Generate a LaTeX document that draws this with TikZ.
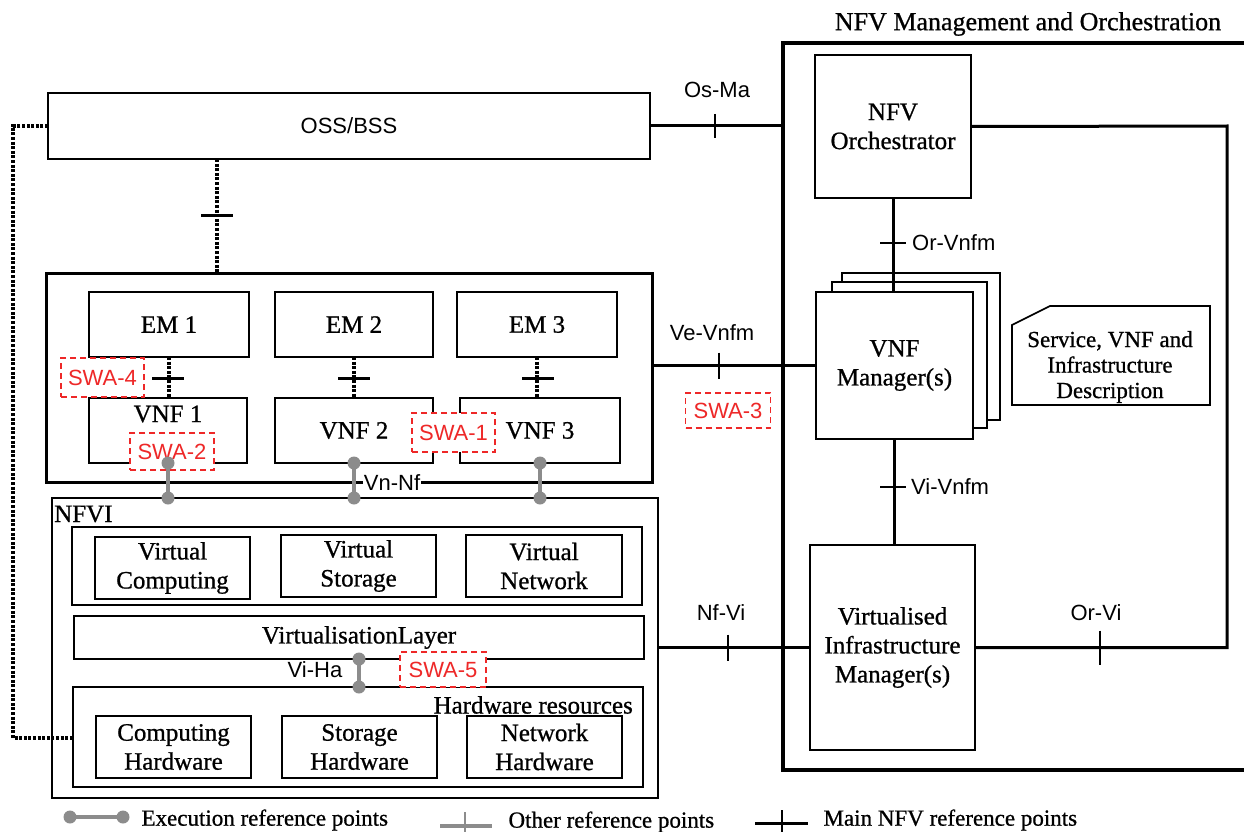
\documentclass[tikz,border=0pt]{standalone}
\usepackage{fontspec}
\setmainfont{Liberation Serif}[BoldFont={Liberation Serif}, BoldFeatures={FakeBold=0.8}]
\setsansfont{Liberation Sans}

\definecolor{swared}{RGB}{238,40,40}
\definecolor{exegray}{RGB}{140,140,140}

\newcommand{\boxfont}{\bfseries\fontsize{25}{29}\selectfont}
\newcommand{\legfont}{\bfseries\fontsize{23}{26}\selectfont}
\newcommand{\labfont}{\sffamily\fontsize{22}{24}\selectfont}

\tikzset{
	box/.style={draw, line width=1.6pt, fill=white, inner sep=0pt, outer sep=0pt, align=center, font=\boxfont},
	holder/.style={draw, line width=3pt, inner sep=0pt, outer sep=0pt},
	swa/.style={draw=swared, dash pattern=on 6pt off 4pt, line width=1.6pt, text=swared, fill=white, inner sep=0pt, font=\labfont},
	reflabel/.style={font=\labfont, inner sep=1pt},
	mainref/.style={line width=3pt},
	thintick/.style={line width=1.6pt},
	bartick/.style={line width=3pt},
	dotlink/.style={line width=3.6pt, dash pattern=on 3pt off 1.6pt},
	exe/.style={line width=4pt, draw=exegray},
}

% gray execution reference point, dot at each end
\newcommand{\execlink}[2]{%
	\draw[exe] #1 -- #2;
	\fill[exegray] #1 circle (6.5pt);
	\fill[exegray] #2 circle (6.5pt);}

\begin{document}
\begin{tikzpicture}[x=1pt, y=-1pt]
	\useasboundingbox (0,0) rectangle (1244,832);

	% OSS/BSS
	\node[box, font=\sffamily\fontsize{22}{24}\selectfont, minimum width=602, minimum height=66] (oss) at (349,126) {OSS/BSS};

	% VNF layer
	\node[holder, minimum width=606, minimum height=209] (vnfbox) at (349,377.5) {};
	\node[box, minimum width=160, minimum height=65] (em1) at (169,324.5) {EM 1};
	\node[box, minimum width=158, minimum height=65] (em2) at (354,324.5) {EM 2};
	\node[box, minimum width=160, minimum height=65] (em3) at (537,324.5) {EM 3};
	\node[box, minimum width=158, minimum height=65] (vnf1) at (168,430.5) {};
	\node[font=\boxfont] (vnf1t) at (168,414) {VNF 1};
	\node[box, minimum width=158, minimum height=65] (vnf2) at (354,430.5) {VNF 2};
	\node[box, minimum width=160, minimum height=65] (vnf3) at (540,430.5) {VNF 3};

	\draw[dotlink] (em1.south) -- (em1.south |- vnf1.north);
	\draw[dotlink] (em2.south) -- (em2.south |- vnf2.north);
	\draw[dotlink] (em3.south) -- (em3.south |- vnf3.north);
	\draw[bartick] (168,378) ++(-16,0) -- ++(32,0);
	\draw[bartick] (354,378) ++(-16,0) -- ++(32,0);
	\draw[bartick] (538,378) ++(-16,0) -- ++(32,0);

	% OSS/BSS to EMs
	\coordinate (osstick) at (217,215);
	\draw[dotlink] (oss.south -| osstick) -- (vnfbox.north -| osstick);
	\draw[bartick] (osstick) ++(-16,0) -- ++(32,0);

	% NFVI
	\node[box, minimum width=606, minimum height=300] (nfvi) at (355,648) {};
	\node[anchor=west, font=\boxfont, inner sep=0pt] (nfvit) at (54,514) {NFVI};
	\node[box, minimum width=570, minimum height=78] (vrow) at (357,566) {};
	\node[box, minimum width=155, minimum height=62] (vcomp) at (172.5,568) {Virtual\\Computing};
	\node[box, minimum width=155, minimum height=62] (vstor) at (358.5,566) {Virtual\\Storage};
	\node[box, minimum width=156, minimum height=62] (vnet) at (544,566) {Virtual\\Network};
	\node[box, minimum width=570, minimum height=43] (vlayer) at (359,637.5) {VirtualisationLayer};
	\node[box, minimum width=570, minimum height=100] (hwres) at (358,737) {};
	\node[anchor=east, font=\boxfont, inner sep=0pt] (hwrest) at (633,705) {Hardware resources};
	\node[box, minimum width=155, minimum height=62] (chw) at (173.5,747) {Computing\\Hardware};
	\node[box, minimum width=155, minimum height=62] (shw) at (359.5,747) {Storage\\Hardware};
	\node[box, minimum width=155, minimum height=62] (nhw) at (544.5,747) {Network\\Hardware};

	% OSS/BSS to hardware
	\coordinate (loop) at (13,738);
	\draw[dotlink] (oss.west) -| (loop) -- (loop -| hwres.west);

	% NFV MANO
	\node[font=\bfseries\fontsize{26}{28}\selectfont] (manot) at (1028,24) {NFV Management and Orchestration};
	\coordinate (manotl) at (783,43);
	\coordinate (manobl) at (783,770);
	\draw[holder, line width=3.6pt] (1250,43) -- (manotl) -- (manobl) -- (1250,770);

	\node[box, minimum width=156, minimum height=143] (orch) at (893,126.5) {NFV\\Orchestrator};
	\node[box, minimum width=158, minimum height=147] (vnfmc) at (921,346.5) {};
	\node[box, minimum width=155, minimum height=146] (vnfmb) at (909.5,355) {};
	\node[box, minimum width=157, minimum height=147] (vnfm) at (894.5,365.5) {VNF\\Manager(s)};
	\node[box, minimum width=165, minimum height=205] (vim) at (892.5,647.5) {Virtualised\\Infrastructure\\Manager(s)};

	\draw[line width=1.6pt] (1012,405) -- (1012,325) -- (1050,306) -- (1210,306) -- (1210,405) -- cycle;
	\node[align=center, font=\bfseries\fontsize{23}{25.5}\selectfont] (desc) at (1110,367) {Service, VNF and\\Infrastructure\\Description};

	% main reference points
	\coordinate (ne) at (1227,126);
	\coordinate (se) at (1227,647.5);
	\draw[mainref] (oss.east) -- (oss.east -| manotl);
	\draw[mainref] (orch.east) -- (ne) -- (se) -- (vim.east);
	\draw[mainref] (orch.south) -- (orch.south |- vnfm.north);
	\draw[mainref] (vnfm.south) -- (vnfm.south |- vim.north);
	\draw[mainref] (vnfm.west) -- (vnfm.west -| vnfbox.east);
	\draw[mainref] (vim.west) -- (vim.west -| nfvi.east);

	\draw[thintick] (715,126) ++(0,-12) -- ++(0,24);
	\draw[thintick] (719,365.5) ++(0,-13) -- ++(0,26);
	\draw[thintick] (728,647.5) ++(0,-13) -- ++(0,26);
	\draw[thintick] (1100,647.5) ++(0,-17) -- ++(0,34);
	\draw[thintick] (893,243) ++(-13,0) -- ++(26,0);
	\draw[thintick] (893,487) ++(-13,0) -- ++(26,0);

	\node[reflabel] (osma) at (717,90) {Os-Ma};
	\node[reflabel] (vevnfm) at (712,333) {Ve-Vnfm};
	\node[reflabel, anchor=west] (orvnfm) at (911,243) {Or-Vnfm};
	\node[reflabel, anchor=west] (vivnfm) at (910,487) {Vi-Vnfm};
	\node[reflabel] (nfvi-ref) at (721,613) {Nf-Vi};
	\node[reflabel] (orvi) at (1096,613) {Or-Vi};

	% software architecture markers
	\node[swa, minimum width=83, minimum height=39] (swa4) at (102.5,377.5) {SWA-4};
	\node[swa, minimum width=84, minimum height=37] (swa2) at (172,451.5) {SWA-2};
	\node[swa, minimum width=83, minimum height=39] (swa1) at (453.5,432.5) {SWA-1};
	\node[swa, minimum width=85, minimum height=35] (swa3) at (728,410.5) {SWA-3};
	\node[swa, minimum width=86, minimum height=35] (swa5) at (443,669.5) {SWA-5};

	% execution reference points
	\node[reflabel, fill=white] (vnnf) at (392,483) {Vn-Nf};
	\node[reflabel] (viha) at (315,670) {Vi-Ha};
	\execlink{(vnf1.south)}{(vnf1.south |- nfvi.north)}
	\execlink{(vnf2.south)}{(vnf2.south |- nfvi.north)}
	\execlink{(vnf3.south)}{(vnf3.south |- nfvi.north)}
	\execlink{(vlayer.south)}{(vlayer.south |- hwres.north)}

	% legend
	\execlink{(70,817)}{(123,817)}
	\node[anchor=west, font=\legfont] (lexe) at (138,820) {Execution reference points};
	\draw[exe] (440,826) -- (492,826);
	\draw[exe, line width=2.4pt] (465,812) -- (465,840);
	\node[anchor=west, font=\legfont] (loth) at (505,822) {Other reference points};
	\draw[mainref] (755,823) -- (808,823);
	\draw[thintick] (782,810) -- (782,838);
	\node[anchor=west, font=\legfont] (lmain) at (820,820) {Main NFV reference points};
\end{tikzpicture}
\end{document}
